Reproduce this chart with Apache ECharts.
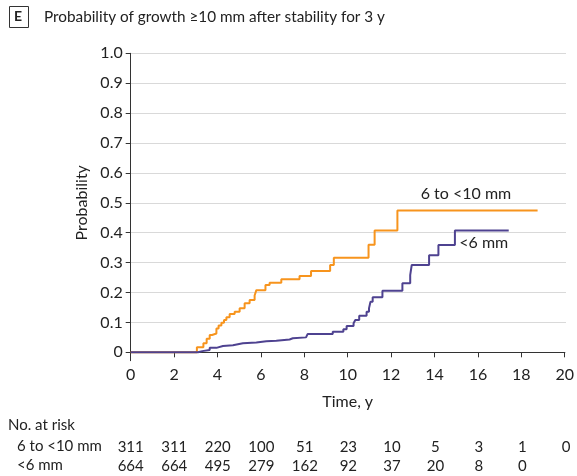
<!DOCTYPE html>
<html>
<head>
<meta charset="utf-8">
<script src="https://cdn.jsdelivr.net/npm/echarts@6/dist/echarts.min.js"></script>
<style>
html,body{margin:0;padding:0;background:#fff;}
#chart{width:577px;height:476px;}
</style>
</head>
<body>
<div id="chart"></div>
<script>
// ---- data ----
var seriesNames = ['6 to <10 mm', '<6 mm'];
// Kaplan-Meier style cumulative probability: [time (y), probability]
var medium = [
  [0,0],[3.05,0.017],[3.35,0.03],[3.5,0.045],[3.64,0.058],[3.75,0.063],[3.95,0.08],
  [4.05,0.09],[4.18,0.099],[4.3,0.108],[4.41,0.117],[4.56,0.128],[4.79,0.136],
  [5.02,0.147],[5.25,0.164],[5.48,0.175],[5.71,0.19],[5.79,0.208],[6.21,0.225],
  [6.4,0.233],[6.94,0.244],[7.78,0.255],[8.31,0.272],[9.19,0.292],[9.36,0.316],
  [10.96,0.36],[11.24,0.407],[12.29,0.474],[18.75,0.474]
];
var small = [
  [0,0],[3.1,0.004],[3.3,0.008],[3.64,0.015],[3.95,0.021],[4.25,0.024],[4.71,0.03],
  [5.17,0.033],[5.79,0.037],[6.25,0.039],[6.71,0.043],[7.32,0.047],[7.47,0.05],
  [8.08,0.055],[8.15,0.061],[9.31,0.069],[9.8,0.077],[9.95,0.088],[10.27,0.097],
  [10.35,0.108],[10.53,0.122],[10.87,0.136],[10.98,0.147],[11.05,0.169],[11.15,0.184],
  [11.6,0.206],[12.52,0.231],[12.88,0.258],[12.95,0.292],[13.75,0.325],[14.18,0.359],
  [14.94,0.407],[17.42,0.407]
];
var riskTimes = [0,2,4,6,8,10,12,14,16,18,20];
var riskMedium = ['311','311','220','100','51','23','10','5','3','1','0'];
var riskSmall = ['664','664','495','279','162','92','37','20','8','0',''];
var xTicks = [0,2,4,6,8,10,12,14,16,18,20];
var yTickLabels = ['0','0.1','0.2','0.3','0.4','0.5','0.6','0.7','0.8','0.9','1.0'];
var labelAnchors = { medium: [15.45, 0.529], small: [16.27, 0.366] };

// ---- chart ----
var FONT = 'Lato';
var TXT = '#222';
var FS = 16;
var FT = 15;
var chart = echarts.init(document.getElementById('chart'), null, {renderer:'canvas'});

function riskFormatter(arr){
  return function(v){
    var i = riskTimes.indexOf(Math.round(v));
    return i >= 0 ? arr[i] : '';
  };
}

var L = 130.7, R = 11;
var option = {
  animation: false,
  backgroundColor: '#fff',
  textStyle: {fontFamily: FONT, color: TXT},
  title: {
    text: 'Probability of growth \u226510 mm after stability for 3 y',
    left: 39, top: 5,
    textStyle: {fontFamily: FONT, fontSize: 15.3, fontWeight: 'normal', color: '#222'}
  },
  grid: [
    {left: L, right: R, top: 53.3, bottom: 476 - 360.7},   // data grid
    {left: L, right: R, top: 53.3, bottom: 476 - 352.3},   // y tick grid
    {left: L, right: R, top: 447, height: 0},              // risk row 1
    {left: L, right: R, top: 466, height: 0}               // risk row 2
  ],
  xAxis: [
    {gridIndex:0, type:'value', min:0, max:20, interval:2,
     name:'Time, y', nameLocation:'middle', nameGap:33,
     nameTextStyle:{fontSize:FS, color:TXT, fontFamily:FONT},
     axisLine:{lineStyle:{color:'#333', width:1}},
     axisTick:{show:true, length:5, lineStyle:{color:'#333'}},
     axisLabel:{fontSize:FS, color:TXT, margin:6, fontFamily:FONT},
     splitLine:{show:false}},
    {gridIndex:1, type:'value', min:0, max:20, show:false},
    {gridIndex:2, type:'value', min:0, max:20, interval:2,
     axisLine:{show:false}, axisTick:{show:false}, splitLine:{show:false},
     axisLabel:{show:true, margin:0, verticalAlign:'middle', fontSize:FT, color:TXT,
       fontFamily:FONT, showMinLabel:true, showMaxLabel:true, formatter: riskFormatter(riskMedium)}},
    {gridIndex:3, type:'value', min:0, max:20, interval:2,
     axisLine:{show:false}, axisTick:{show:false}, splitLine:{show:false},
     axisLabel:{show:true, margin:0, verticalAlign:'middle', fontSize:FT, color:TXT,
       fontFamily:FONT, showMinLabel:true, showMaxLabel:true, formatter: riskFormatter(riskSmall)}}
  ],
  yAxis: [
    {gridIndex:0, type:'value', min:-0.028, max:1,
     axisLine:{show:true, lineStyle:{color:'#333', width:1}},
     axisTick:{show:false}, axisLabel:{show:false}, splitLine:{show:false}},
    {gridIndex:1, type:'value', min:0, max:1, interval:0.1,
     name:'Probability', nameLocation:'middle', nameGap:36,
     nameTextStyle:{fontSize:FS, color:TXT, fontFamily:FONT},
     axisLine:{show:false},
     axisTick:{show:true, length:5, lineStyle:{color:'#333'}},
     axisLabel:{fontSize:FS, color:TXT, margin:8, fontFamily:FONT,
       formatter:function(v){ return yTickLabels[Math.round(v*10)]; }},
     splitLine:{show:true, lineStyle:{color:'#d9d9d9', width:1}}},
    {gridIndex:2, type:'value', show:false},
    {gridIndex:3, type:'value', show:false}
  ],
  series: [
    {name: seriesNames[0], type:'line', xAxisIndex:0, yAxisIndex:0, step:'end',
     data: medium, showSymbol:false, symbol:'none',
     lineStyle:{color:'#F7941D', width:2}, z:3,
     markPoint:{symbol:'circle', symbolSize:0, silent:true,
       label:{show:true, formatter: seriesNames[0], fontSize:FS, color:TXT, fontFamily:FONT, position:'inside'},
       data:[{coord: labelAnchors.medium}]}},
    {name: seriesNames[1], type:'line', xAxisIndex:0, yAxisIndex:0, step:'end',
     data: small, showSymbol:false, symbol:'none',
     lineStyle:{color:'#4E4290', width:2}, z:4,
     markPoint:{symbol:'circle', symbolSize:0, silent:true,
       label:{show:true, formatter: seriesNames[1], fontSize:FS, color:TXT, fontFamily:FONT, position:'inside'},
       data:[{coord: labelAnchors.small}]}}
  ],
  graphic: [
    {type:'rect', left: 9, top: 6, shape:{width:19, height:21},
     style:{fill:'#fff', stroke:'#333', lineWidth:1}},
    {type:'text', left: 14, top: 9,
     style:{text:'E', font:'bold 14px ' + FONT, fill:'#222'}},
    {type:'text', left: 8, top: 418, style:{text:'No. at risk', font:FT + 'px ' + FONT, fill:TXT}},
    {type:'text', left: 17, top: 439, style:{text:seriesNames[0], font:FT + 'px ' + FONT, fill:TXT}},
    {type:'text', left: 17, top: 458, style:{text:seriesNames[1], font:FT + 'px ' + FONT, fill:TXT}}
  ]
};
chart.setOption(option);
</script>
</body>
</html>
